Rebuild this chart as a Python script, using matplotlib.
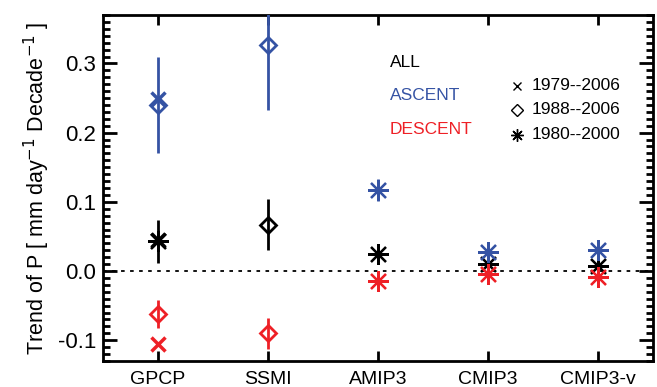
import numpy as np
from matplotlib import pyplot as plt
from matplotlib.ticker import MultipleLocator

plt.rcParams['font.family'] = ['Liberation Sans', 'DejaVu Sans']

models = ['GPCP', 'SSMI', 'AMIP3', 'CMIP3', 'CMIP3-v']
xpos = np.arange(1, 6)

# cross = 1979--2006, diamond = 1988--2006, asterisk = 1980--2000
# regimes: ALL (black), ASCENT (blue), DESCENT (red)
cross_all = [0.045, np.nan, np.nan, np.nan, np.nan]
cross_asc = [0.248, np.nan, np.nan, np.nan, np.nan]
cross_des = [-0.106, np.nan, np.nan, np.nan, np.nan]

diam_all = [np.nan, 0.067, np.nan, np.nan, np.nan]
diam_all_err = [np.nan, 0.037, np.nan, np.nan, np.nan]
diam_asc = [0.240, 0.326, np.nan, np.nan, np.nan]
diam_asc_err = [0.070, 0.093, np.nan, np.nan, np.nan]
diam_des = [-0.062, -0.090, np.nan, np.nan, np.nan]
diam_des_err = [0.020, 0.022, np.nan, np.nan, np.nan]

ast_all = [0.043, np.nan, 0.025, 0.010, 0.007]
ast_all_err = [0.031, np.nan, 0.0, 0.0, 0.0]
ast_asc = [np.nan, np.nan, 0.117, 0.027, 0.031]
ast_asc_err = [np.nan, np.nan, 0.016, 0.0, 0.0]
ast_des = [np.nan, np.nan, -0.014, -0.005, -0.009]

regimes = ['ALL', 'ASCENT', 'DESCENT']
periods = ['1979--2006', '1988--2006', '1980--2000']

black = 'black'
blue = '#3553A4'
red = '#EE2026'

fg = plt.figure(figsize=(6.57, 3.87), dpi=100)
ax = fg.add_axes([103/657, 26/387, 550/657, 346/387])

ax.axhline(0, color='black', linestyle=(0, (2, 3)), linewidth=1.3, zorder=1)

asterisk = (8, 2, 0)
for vals, err, col in [(diam_all, diam_all_err, black), (diam_asc, diam_asc_err, blue), (diam_des, diam_des_err, red)]:
    ax.errorbar(xpos, vals, yerr=err, fmt='D', ms=8, mfc='none', mec=col, mew=2,
                ecolor=col, elinewidth=2, capsize=0, zorder=3)
for vals, err, col in [(ast_all, ast_all_err, black), (ast_asc, ast_asc_err, blue)]:
    ax.errorbar(xpos, vals, yerr=err, fmt='none', ecolor=col, elinewidth=2, capsize=0, zorder=3)
for vals, col in [(ast_all, black), (ast_asc, blue), (ast_des, red)]:
    ax.plot(xpos, vals, linestyle='none', marker=asterisk, ms=15, mec=col, mew=1.6, zorder=4)
for vals, col in [(cross_all, black), (cross_asc, blue), (cross_des, red)]:
    ax.plot(xpos, vals, linestyle='none', marker='x', ms=10, mec=col, mew=2.5, zorder=4)

ax.set_xlim(0.5, 5.5)
ax.set_ylim(-0.13, 0.37)
ax.set_xticks(xpos)
ax.set_xticklabels(models)
ax.set_yticks([-0.1, 0.0, 0.1, 0.2, 0.3])
ax.set_yticklabels(['-0.1', '0.0', '0.1', '0.2', '0.3'])
ax.yaxis.set_minor_locator(MultipleLocator(0.01))
ax.tick_params(axis='both', which='both', direction='in', top=True, right=True)
ax.tick_params(axis='y', which='major', length=10, width=2, labelsize=16, pad=5)
ax.tick_params(axis='y', which='minor', length=5, width=2)
ax.tick_params(axis='x', which='major', length=7, width=2, labelsize=14, pad=7)
for s in ax.spines.values():
    s.set_linewidth(2)
ax.set_ylabel('Trend of P [ mm day$^{-1}$ Decade$^{-1}$ ]', fontsize=15.5, labelpad=4)

# regime labels
for lab, col, yv in zip(regimes, [black, blue, red], [0.302, 0.253, 0.204]):
    ax.text(3.11, yv, lab, color=col, fontsize=12.5, va='center')

# period legend
for mk, lab, yv in zip(['x', 'D', asterisk], periods, [0.268, 0.233, 0.197]):
    ax.plot([4.26], [yv], linestyle='none', marker=mk, ms=6 if mk != asterisk else 9,
            mfc='none', mec='black', mew=1.0)
    ax.text(4.40, yv, lab, color='black', fontsize=12.5, va='center')

fg.savefig('out.png', dpi=100)
